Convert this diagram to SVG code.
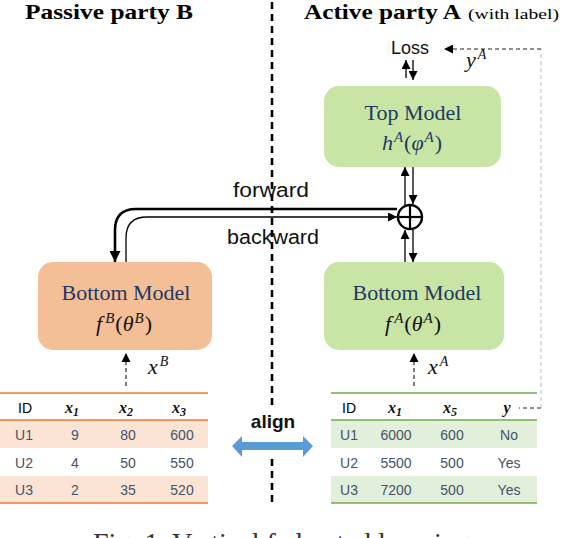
<svg xmlns="http://www.w3.org/2000/svg" width="562" height="538" viewBox="0 0 562 538">
<style>
.title{font-family:"Liberation Serif",serif;font-weight:bold;font-size:21px;fill:#000}
.sub{font-family:"Liberation Serif",serif;font-size:15px;fill:#000}
.sans{font-family:"Liberation Sans",Arial,sans-serif;fill:#111}
.model{font-family:"Liberation Serif",serif;font-size:22px;fill:#1f3864}
.math{font-family:"Liberation Serif",serif;font-size:22px;fill:#111}
.it{font-style:italic}
.cell{font-family:"Liberation Sans",Arial,sans-serif;font-size:14px;fill:#44546a}
.hdr{font-family:"Liberation Sans",Arial,sans-serif;font-size:14px;fill:#000}
.hx{font-family:"Liberation Serif",serif;font-size:16px;font-style:italic;font-weight:bold;fill:#111}
.ln{stroke:#000;stroke-width:1.3;fill:none}
</style>
<defs>
<marker id="ah" viewBox="0 0 10 10" refX="10" refY="5" markerWidth="9" markerHeight="9" markerUnits="userSpaceOnUse" orient="auto"><path d="M0,0 L10,5 L0,10 z" fill="#000"/></marker>
<marker id="ahb" viewBox="0 0 10 10" refX="10" refY="5" markerWidth="11" markerHeight="11" markerUnits="userSpaceOnUse" orient="auto"><path d="M0,0 L10,5 L0,10 z" fill="#000"/></marker>
</defs>

<!-- titles -->
<g id="title-b"><text class="title" x="25" y="19" textLength="168" lengthAdjust="spacingAndGlyphs">Passive party B</text></g>
<g id="title-a">
<text class="title" x="304" y="19" textLength="157" lengthAdjust="spacingAndGlyphs">Active party A</text>
<text class="sub" x="468" y="19" textLength="91" lengthAdjust="spacingAndGlyphs">(with label)</text>
</g>

<!-- separator -->
<g id="separator" stroke="#000" stroke-width="2.6" stroke-dasharray="7 5">
<line x1="272" y1="2" x2="272" y2="408"/>
<line x1="272" y1="459" x2="272" y2="507"/>
</g>

<!-- nodes -->
<g id="loss"><text class="sans" x="410" y="54" font-size="18" text-anchor="middle">Loss</text></g>
<g id="yA"><text class="math it" x="466" y="67" font-size="20">y<tspan font-size="14" dx="2" dy="-8">A</tspan></text></g>

<g id="top-model">
<rect x="324" y="86" width="177" height="81" rx="15" fill="#c8e5a5"/>
<text class="model" x="413" y="120" text-anchor="middle">Top Model</text>
<text class="model" x="412" y="150" text-anchor="middle"><tspan class="it">h</tspan><tspan font-size="15" dx="1" dy="-8" class="it">A</tspan><tspan dx="1" dy="8">(</tspan><tspan class="it">φ</tspan><tspan font-size="15" dx="1" dy="-8" class="it">A</tspan><tspan dx="1" dy="8">)</tspan></text>
</g>

<g id="sum">
<circle cx="410" cy="217" r="12" fill="#fff" stroke="#000" stroke-width="2.4"/>
<line x1="398" y1="217" x2="422" y2="217" stroke="#000" stroke-width="2.2"/>
<line x1="410" y1="205" x2="410" y2="229" stroke="#000" stroke-width="2.2"/>
</g>

<g id="bottom-model-b">
<rect x="38" y="262" width="174" height="88" rx="15" fill="#f4be97"/>
<text class="model" x="126" y="300" text-anchor="middle">Bottom Model</text>
<text class="math" x="124" y="331" text-anchor="middle"><tspan class="it">f</tspan><tspan font-size="15" dx="3" dy="-8" class="it">B</tspan><tspan dx="1" dy="8">(</tspan><tspan class="it">θ</tspan><tspan font-size="15" dx="1" dy="-8" class="it">B</tspan><tspan dx="1" dy="8">)</tspan></text>
</g>

<g id="bottom-model-a">
<rect x="324" y="262" width="180" height="88" rx="15" fill="#c8e5a5"/>
<text class="model" x="417" y="300" text-anchor="middle">Bottom Model</text>
<text class="math" x="413" y="331" text-anchor="middle"><tspan class="it">f</tspan><tspan font-size="15" dx="3" dy="-8" class="it">A</tspan><tspan dx="1" dy="8">(</tspan><tspan class="it">θ</tspan><tspan font-size="15" dx="1" dy="-8" class="it">A</tspan><tspan dx="1" dy="8">)</tspan></text>
</g>

<g id="xB"><text class="math it" x="148" y="374" font-size="20">x<tspan font-size="14" dx="2" dy="-8">B</tspan></text></g>
<g id="xA"><text class="math it" x="428" y="374" font-size="20">x<tspan font-size="14" dx="2" dy="-8">A</tspan></text></g>

<g id="label-forward"><text class="sans" x="271" y="197" font-size="20" text-anchor="middle" textLength="76" lengthAdjust="spacingAndGlyphs">forward</text></g>
<g id="label-backward"><text class="sans" x="273" y="244" font-size="20" text-anchor="middle" textLength="92" lengthAdjust="spacingAndGlyphs">backward</text></g>

<!-- table B -->
<g id="table-b">
<rect x="0" y="420" width="208" height="28" fill="#fbe4d5"/>
<rect x="0" y="476" width="208" height="27" fill="#fbe4d5"/>
<line x1="0" y1="393" x2="208" y2="393" stroke="#ed7d31" stroke-width="1.5"/>
<line x1="0" y1="420" x2="208" y2="420" stroke="#ed7d31" stroke-width="1.5"/>
<line x1="0" y1="503" x2="208" y2="503" stroke="#ed7d31" stroke-width="1.5"/>
<text class="hdr" x="25" y="413" text-anchor="middle">ID</text>
<text class="hx" x="72" y="413" text-anchor="middle">x<tspan font-size="12" dy="3">1</tspan></text>
<text class="hx" x="126" y="413" text-anchor="middle">x<tspan font-size="12" dy="3">2</tspan></text>
<text class="hx" x="179" y="413" text-anchor="middle">x<tspan font-size="12" dy="3">3</tspan></text>
<text class="cell" x="24" y="440" text-anchor="middle">U1</text>
<text class="cell" x="75" y="440" text-anchor="middle">9</text>
<text class="cell" x="128" y="440" text-anchor="middle">80</text>
<text class="cell" x="182" y="440" text-anchor="middle">600</text>
<text class="cell" x="24" y="468" text-anchor="middle">U2</text>
<text class="cell" x="75" y="468" text-anchor="middle">4</text>
<text class="cell" x="128" y="468" text-anchor="middle">50</text>
<text class="cell" x="182" y="468" text-anchor="middle">550</text>
<text class="cell" x="24" y="495" text-anchor="middle">U3</text>
<text class="cell" x="75" y="495" text-anchor="middle">2</text>
<text class="cell" x="128" y="495" text-anchor="middle">35</text>
<text class="cell" x="182" y="495" text-anchor="middle">520</text>
</g>

<!-- table A -->
<g id="table-a">
<rect x="331" y="420" width="206" height="28" fill="#e2efda"/>
<rect x="331" y="476" width="206" height="27" fill="#e2efda"/>
<line x1="331" y1="393" x2="537" y2="393" stroke="#70ad47" stroke-width="1.5"/>
<line x1="331" y1="420" x2="537" y2="420" stroke="#70ad47" stroke-width="1.5"/>
<line x1="331" y1="503" x2="537" y2="503" stroke="#70ad47" stroke-width="1.5"/>
<text class="hdr" x="349" y="413" text-anchor="middle">ID</text>
<text class="hx" x="395" y="413" text-anchor="middle" font-weight="normal">x<tspan font-size="12" dy="3">1</tspan></text>
<text class="hx" x="450" y="413" text-anchor="middle" font-weight="normal">x<tspan font-size="12" dy="3">5</tspan></text>
<text class="hx" x="507" y="413" text-anchor="middle" font-weight="normal">y</text>
<text class="cell" x="349" y="440" text-anchor="middle">U1</text>
<text class="cell" x="396" y="440" text-anchor="middle">6000</text>
<text class="cell" x="452" y="440" text-anchor="middle">600</text>
<text class="cell" x="509" y="440" text-anchor="middle">No</text>
<text class="cell" x="349" y="468" text-anchor="middle">U2</text>
<text class="cell" x="396" y="468" text-anchor="middle">5500</text>
<text class="cell" x="452" y="468" text-anchor="middle">500</text>
<text class="cell" x="509" y="468" text-anchor="middle">Yes</text>
<text class="cell" x="349" y="495" text-anchor="middle">U3</text>
<text class="cell" x="396" y="495" text-anchor="middle">7200</text>
<text class="cell" x="452" y="495" text-anchor="middle">500</text>
<text class="cell" x="509" y="495" text-anchor="middle">Yes</text>
</g>

<!-- align -->
<g id="align">
<text class="sans" x="273" y="428" font-size="19" font-weight="bold" text-anchor="middle">align</text>
<path d="M232,446 L242,436 L242,442 L303,442 L303,436 L313,446 L303,457 L303,450 L242,450 L242,457 Z" fill="#5b9bd5"/>
</g>

<!-- connectors -->
<g id="connectors">
<line class="ln" x1="406" y1="78" x2="406" y2="60" marker-end="url(#ah)"/>
<line class="ln" x1="413" y1="60" x2="413" y2="80" marker-end="url(#ah)"/>
<line class="ln" x1="405" y1="205" x2="405" y2="167" marker-end="url(#ah)"/>
<line class="ln" x1="413" y1="167" x2="413" y2="204" marker-end="url(#ah)"/>
<line class="ln" x1="405" y1="262" x2="405" y2="230" marker-end="url(#ah)"/>
<line class="ln" x1="413" y1="230" x2="413" y2="262" marker-end="url(#ah)"/>
<path d="M397,209 L136,209 Q115,209 115,230 L115,262" fill="none" stroke="#000" stroke-width="2.6" marker-end="url(#ahb)"/>
<path d="M126,262 L126,238 Q126,217 147,217 L397,217" class="ln" marker-end="url(#ah)"/>
<line x1="126" y1="386" x2="126" y2="353" stroke="#000" stroke-width="1" stroke-dasharray="4 3" marker-end="url(#ah)"/>
<line x1="414" y1="386" x2="414" y2="353" stroke="#000" stroke-width="1" stroke-dasharray="4 3" marker-end="url(#ah)"/>
<line x1="541" y1="408" x2="519" y2="408" stroke="#222" stroke-width="1" stroke-dasharray="4 3"/>
<line x1="541" y1="408" x2="541" y2="49" stroke="#bbb" stroke-width="1" stroke-dasharray="4 3"/>
<line x1="541" y1="49" x2="444" y2="49" stroke="#222" stroke-width="1" stroke-dasharray="4 3" marker-end="url(#ah)"/>
</g>

<!-- caption (cut off at the bottom edge) -->
<text x="93" y="552" font-family="Liberation Serif,serif" font-size="27" fill="#333" textLength="377" lengthAdjust="spacingAndGlyphs">Fig. 1. Vertical federated learning</text>
</svg>
